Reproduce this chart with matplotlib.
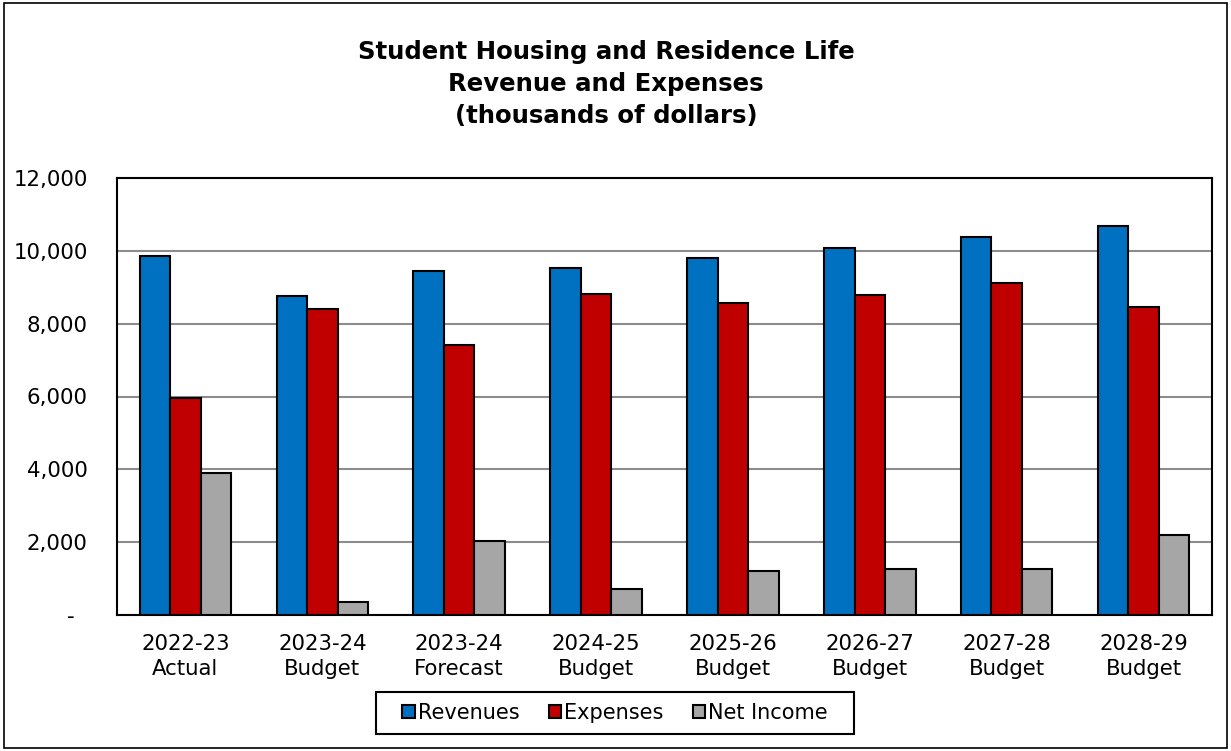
import matplotlib.pyplot as plt
import numpy as np
from matplotlib.patches import Rectangle

# values in thousands of dollars
years = ['2022-23\nActual', '2023-24\nBudget', '2023-24\nForecast', '2024-25\nBudget',
         '2025-26\nBudget', '2026-27\nBudget', '2027-28\nBudget', '2028-29\nBudget']
revenues = [9870, 8760, 9440, 9530, 9790, 10070, 10380, 10680]
expenses = [5970, 8390, 7420, 8820, 8570, 8800, 9120, 8470]
net_income = [3900, 370, 2020, 710, 1220, 1270, 1260, 2210]

series = [('Revenues', revenues, '#0070C0'),
          ('Expenses', expenses, '#C00000'),
          ('Net Income', net_income, '#A6A6A6')]

plt.rcParams['font.family'] = ['DejaVu Sans']

W, H = 1231, 751
fig = plt.figure(figsize=(W / 100, H / 100), dpi=100)
ax = fig.add_axes([117 / W, 1 - 615 / H, (1212 - 117) / W, (615 - 178) / H])

x = np.arange(len(years))
w = 0.223
for i, (name, vals, col) in enumerate(series):
    ax.bar(x + (i - 1) * w, vals, width=w, color=col, edgecolor='black',
           linewidth=1.5, label=name, zorder=3)

ax.set_xlim(-0.5, len(years) - 0.5)
ax.set_ylim(0, 12000)
ax.set_yticks(range(0, 12001, 2000))
# accounting style: zero shown as a dash set in from the right edge
ax.set_yticklabels(['-  ' if v == 0 else f'{v:,}' for v in range(0, 12001, 2000)], fontsize=15.3)
ax.set_xticks(x)
ax.set_xticklabels(years, fontsize=15.3, linespacing=1.3)
ax.tick_params(axis='both', length=0)
ax.tick_params(axis='x', pad=14)
ax.tick_params(axis='y', pad=21)
ax.yaxis.grid(True, color='#8c8c8c', linewidth=1.5, zorder=0)
for s in ax.spines.values():
    s.set_linewidth(1.5)
    s.set_color('black')

fig.text(606 / W, 1 - 84 / H, 'Student Housing and Residence Life\nRevenue and Expenses\n(thousands of dollars)',
         ha='center', va='center', fontsize=17.6, fontweight='bold', linespacing=1.4)

leg = fig.legend(loc='center', bbox_to_anchor=(615 / W, 1 - 713 / H), ncol=3,
                 fontsize=15, frameon=False,
                 handlelength=0.6, handleheight=0.6, handletextpad=0.15, columnspacing=1.4,
                 borderpad=0.2)

# legend box with wider side padding, drawn around the legend's extent
fig.canvas.draw()
bb = leg.get_window_extent()
px = 22
fig.patches.append(Rectangle(((bb.x0 - px) / W, (bb.y0 + bb.height / 2 - 21) / H),
                             (bb.width + 2 * px) / W, 42 / H,
                             transform=fig.transFigure, fill=False, edgecolor='black',
                             linewidth=1.5))

fig.patches.append(Rectangle((4 / W, 3 / H), 1 - 8 / W, 1 - 6 / H,
                             transform=fig.transFigure, fill=False, edgecolor='black',
                             linewidth=1.2))

fig.savefig('out.png', dpi=100)
